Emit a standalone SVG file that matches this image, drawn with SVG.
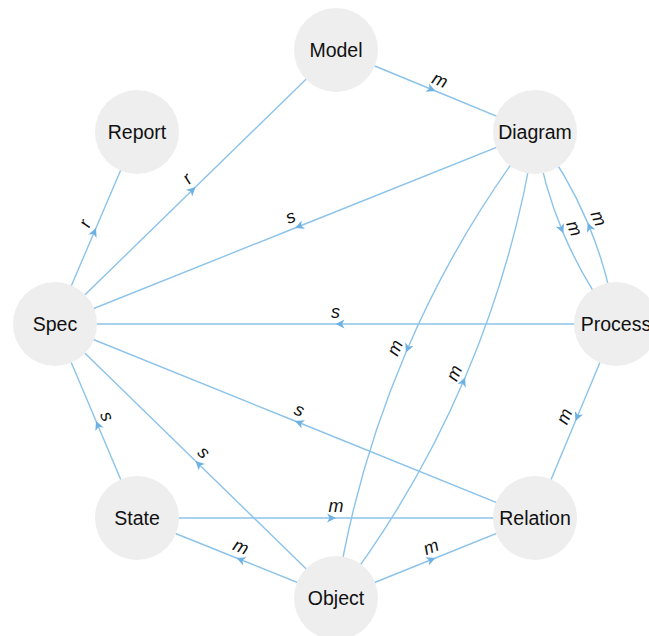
<svg xmlns="http://www.w3.org/2000/svg" width="649" height="636" viewBox="0 0 649 636">
<style>
.e{fill:none;stroke:#8cc3ea;stroke-width:1.4;marker-mid:url(#arr)}
.n circle{fill:#eeeeee}
.n text{font-family:"Liberation Sans",Arial,sans-serif;font-size:19.5px;fill:#111111;text-anchor:middle}
.l{font-family:"Liberation Sans",Arial,sans-serif;font-size:18px;font-style:italic;fill:#111111;text-anchor:middle}
</style>
<defs>
<marker id="arr" viewBox="-10 -5 10 10" refX="0" refY="0" markerWidth="10" markerHeight="10" markerUnits="userSpaceOnUse" orient="auto">
<path d="M0,0 L-9,-4.5 L-6.5,0 L-9,4.5 Z" fill="#6fb2e2"/>
</marker>
</defs>
<rect width="649" height="636" fill="#ffffff"/>
<g id="connectors">
<path class="e" d="M336,50 L435.5,91 L535,132"/>
<path class="e" d="M55,324 L96,228 L137,132"/>
<path class="e" d="M55,324 L195.5,187 L336,50"/>
<path class="e" d="M535,132 L295,228 L55,324"/>
<path class="e" d="M616,324 L335.5,324 L55,324"/>
<path class="e" d="M535,518 L295,421 L55,324"/>
<path class="e" d="M137,518 L96,421 L55,324"/>
<path class="e" d="M336,598 L195.5,461 L55,324"/>
<path class="e" d="M616,324 L575.5,421 L535,518"/>
<path class="e" d="M137,518 L336,518 L535,518"/>
<path class="e" d="M336,598 L236.5,558 L137,518"/>
<path class="e" d="M336,598 L435.5,558 L535,518"/>
<path class="e" d="M535,132 A416.78,416.78 0 0 0 563.31,233.14 A416.78,416.78 0 0 0 616,324"/>
<path class="e" d="M616,324 A416.78,416.78 0 0 0 587.69,222.86 A416.78,416.78 0 0 0 535,132"/>
<path class="e" d="M535,132 A1013.42,1013.42 0 0 0 405.9,352.4 A1013.42,1013.42 0 0 0 336,598"/>
<path class="e" d="M336,598 A1013.42,1013.42 0 0 0 465.1,377.6 A1013.42,1013.42 0 0 0 535,132"/>
<text class="l" transform="translate(439.3,81.8) rotate(22.4)" y="4">m</text>
<text class="l" transform="translate(86.8,224.1) rotate(-66.87)" y="4">r</text>
<text class="l" transform="translate(188.5,179.8) rotate(-44.27)" y="4">r</text>
<text class="l" transform="translate(291.3,218.7) rotate(-21.8)" y="4">s</text>
<text class="l" transform="translate(335.5,314)" y="4">s</text>
<text class="l" transform="translate(298.7,411.7) rotate(22)" y="4">s</text>
<text class="l" transform="translate(105.2,417.1) rotate(67.1)" y="4">s</text>
<text class="l" transform="translate(202.5,453.8) rotate(44.3)" y="4">s</text>
<text class="l" transform="translate(566.3,417.1) rotate(-67.34)" y="4">m</text>
<text class="l" transform="translate(336,508)" y="4">m</text>
<text class="l" transform="translate(240.2,548.7) rotate(21.9)" y="4">m</text>
<text class="l" transform="translate(431.8,548.7) rotate(-21.9)" y="4">m</text>
<text class="l" transform="translate(572.5,229.2) rotate(67.13)" y="4">m</text>
<text class="l" transform="translate(596.9,219) rotate(67.13)" y="4">m</text>
<text class="l" transform="translate(396.7,348.5) rotate(-66.87)" y="4">m</text>
<text class="l" transform="translate(455.9,373.7) rotate(-66.87)" y="4">m</text>
</g>
<g id="Model" class="n"><circle cx="336" cy="50" r="42"/><text x="336" y="57">Model</text></g>
<g id="Report" class="n"><circle cx="137" cy="132" r="42"/><text x="137" y="139">Report</text></g>
<g id="Diagram" class="n"><circle cx="535" cy="132" r="42"/><text x="535" y="139">Diagram</text></g>
<g id="Spec" class="n"><circle cx="55" cy="324" r="42"/><text x="55" y="331">Spec</text></g>
<g id="Process" class="n"><circle cx="616" cy="324" r="42"/><text x="616" y="331">Process</text></g>
<g id="State" class="n"><circle cx="137" cy="518" r="42"/><text x="137" y="525">State</text></g>
<g id="Relation" class="n"><circle cx="535" cy="518" r="42"/><text x="535" y="525">Relation</text></g>
<g id="Object" class="n"><circle cx="336" cy="598" r="42"/><text x="336" y="605">Object</text></g>
</svg>
